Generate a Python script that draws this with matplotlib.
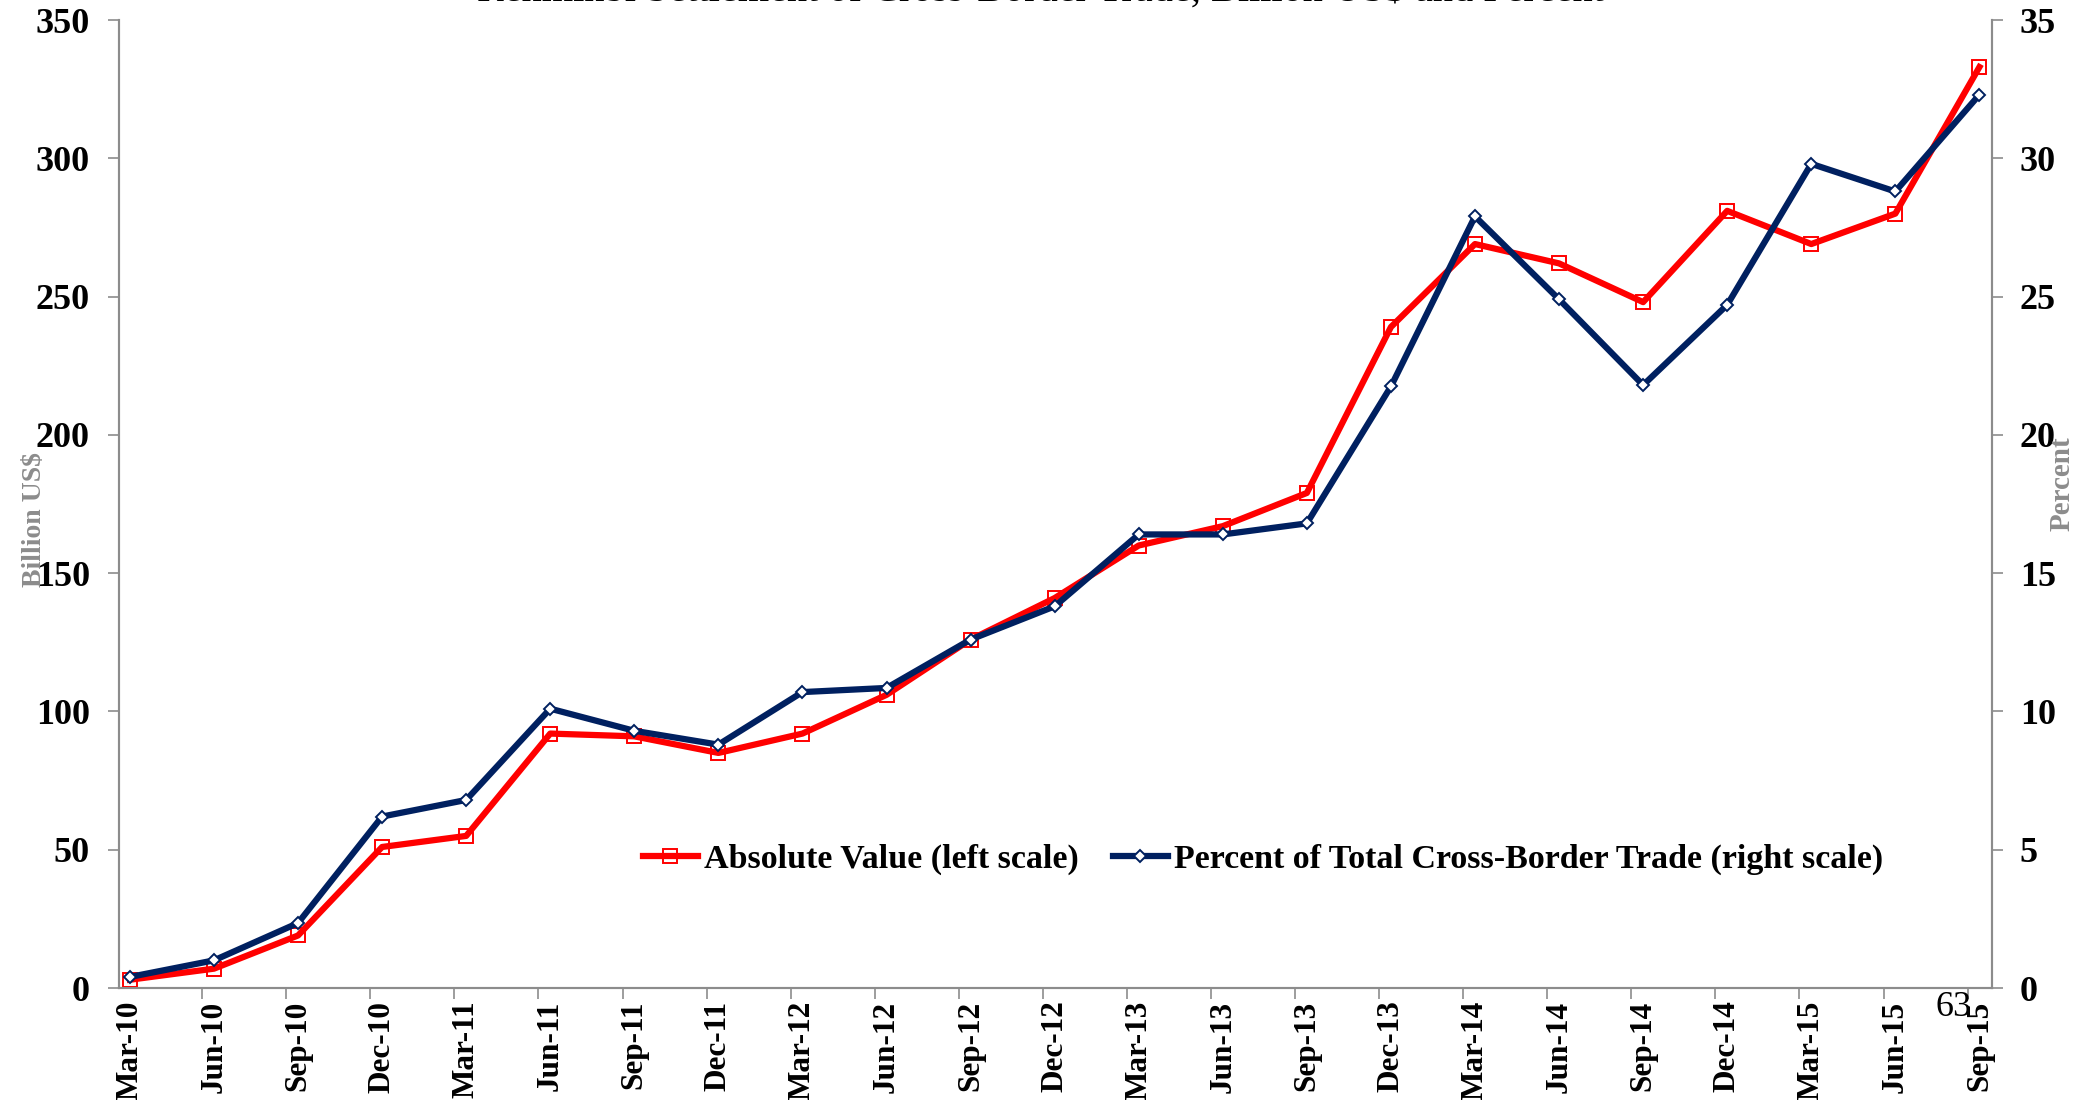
import matplotlib
matplotlib.use("Agg")
import matplotlib.pyplot as plt
from matplotlib.ticker import FixedLocator

categories = ["Mar-10", "Jun-10", "Sep-10", "Dec-10", "Mar-11", "Jun-11", "Sep-11", "Dec-11",
              "Mar-12", "Jun-12", "Sep-12", "Dec-12", "Mar-13", "Jun-13", "Sep-13", "Dec-13",
              "Mar-14", "Jun-14", "Sep-14", "Dec-14", "Mar-15", "Jun-15", "Sep-15"]
absolute_value = [3, 7, 19, 51, 55, 92, 91, 85, 92, 106, 126, 141, 160, 167, 179, 239,
                  269, 262, 248, 281, 269, 280, 333]
percent_total = [0.4, 1.0, 2.35, 6.2, 6.8, 10.1, 9.3, 8.8, 10.7, 10.85, 12.6, 13.8, 16.4, 16.4,
                 16.8, 21.75, 27.9, 24.9, 21.8, 24.7, 29.8, 28.8, 32.3]
left_ticks = [0, 50, 100, 150, 200, 250, 300, 350]
right_ticks = [0, 5, 10, 15, 20, 25, 30, 35]

SERIF = ["Liberation Serif", "DejaVu Serif"]
GRAY = "#8c8c8c"
RED = "#ff0000"
NAVY = "#002060"

fig = plt.figure(figsize=(20.8, 11), dpi=100)
ax = fig.add_axes([0.0572, 0.1018, 0.9005, 0.880])
ax2 = ax.twinx()

x = list(range(len(categories)))
l1, = ax.plot(x, absolute_value, color=RED, lw=4.5, marker="s", markersize=10.5,
              markerfacecolor="none", markeredgecolor=RED, markeredgewidth=1.4,
              label="Absolute Value (left scale)", zorder=3)
l2, = ax2.plot(x, percent_total, color=NAVY, lw=4.5, marker="D", markersize=6.5,
               markerfacecolor="white", markeredgecolor=NAVY, markeredgewidth=1.4,
               label="Percent of Total Cross-Border Trade (right scale)", zorder=3)

ax.set_xlim(-0.13, 22.15)
ax.set_ylim(0, 350)
ax2.set_ylim(0, 35)
ax.set_yticks(left_ticks)
ax2.set_yticks(right_ticks)

ax.set_xticks(x)
ax.set_xticklabels(categories, rotation=90, fontfamily=SERIF, fontweight="bold", fontsize=22.5)
ax.xaxis.set_minor_locator(FixedLocator([i - 0.14 for i in x]))
ax.tick_params(axis="x", which="major", length=0, pad=9)
ax.tick_params(axis="x", which="minor", length=8, width=1.2, color=GRAY, direction="out")

for a in (ax, ax2):
    for s in a.spines.values():
        s.set_color(GRAY)
        s.set_linewidth(1.5)
    a.spines["top"].set_visible(False)

ax.tick_params(axis="y", length=8, width=1.2, color=GRAY, pad=13, labelsize=26)
ax2.tick_params(axis="y", length=8, width=1.2, color=GRAY, pad=12, labelsize=26)
for lab in ax.get_yticklabels() + ax2.get_yticklabels():
    lab.set_fontfamily(SERIF)
    lab.set_fontweight("bold")

fig.text(0.0165, 0.528, "Billion US$", rotation=90, ha="center", va="center",
         fontfamily=SERIF, fontweight="bold", fontsize=20, color=GRAY)
fig.text(0.9915, 0.56, "Percent", rotation=90, ha="center", va="center",
         fontfamily=SERIF, fontweight="bold", fontsize=21, color=GRAY)

fig.text(0.5, 0.9993, "Renminbi Settlement of Cross-Border Trade, Billion US$ and Percent",
         ha="center", va="baseline", fontfamily=SERIF, fontsize=29, color="black")

leg = ax.legend(handles=[l1, l2], loc="center", bbox_to_anchor=(0.611, 0.133),
                ncol=2, frameon=False, prop={"family": SERIF, "weight": "bold", "size": 24.5},
                handlelength=1.6, handletextpad=0.2, columnspacing=1.0)

fig.text(0.939, 0.084, "63", ha="center", va="center", fontfamily=SERIF, fontsize=26)

fig.savefig("out.png", dpi=100)
